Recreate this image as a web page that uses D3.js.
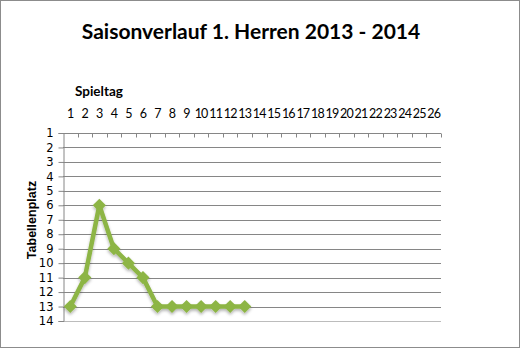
<!DOCTYPE html>
<html><head><meta charset="utf-8">
<script src="https://cdn.jsdelivr.net/npm/d3@7"></script>
<style>body{margin:0;background:#fff}svg{display:block}</style>
</head><body>
<script>
const title = "Saisonverlauf 1. Herren 2013 - 2014";
const xTitle = "Spieltag";
const yTitle = "Tabellenplatz";
const spieltage = d3.range(1, 27);
const platz = [13, 11, 6, 9, 10, 11, 13, 13, 13, 13, 13, 13, 13];
const yTicks = d3.range(1, 15);

const W = 520, H = 348;
const m = {l: 63, r: 79, t: 133, b: 27};
const svg = d3.select("body").append("svg").attr("width", W).attr("height", H);
svg.append("rect").attr("x", 0.5).attr("y", 0.5).attr("width", W - 1).attr("height", H - 1)
  .attr("fill", "#fff").attr("stroke", "#8c8c8c");

const x = d3.scaleBand().domain(spieltage).range([m.l, W - m.r]);
const y = d3.scaleLinear().domain([1, 14]).range([m.t, H - m.b]);

const defs = svg.append("defs");
const f = defs.append("filter").attr("id", "sh").attr("x", "-20%").attr("y", "-20%").attr("width", "140%").attr("height", "160%");
f.append("feDropShadow").attr("dx", 0).attr("dy", 2).attr("stdDeviation", 1.5).attr("flood-color", "#000").attr("flood-opacity", 0.3);

// gridlines
svg.append("g").selectAll("line").data(yTicks.slice(1)).join("line")
  .attr("x1", m.l).attr("x2", W - m.r)
  .attr("y1", d => Math.round(y(d)) + 0.5).attr("y2", d => Math.round(y(d)) + 0.5)
  .attr("stroke", d => d === 14 ? "#bcbcbc" : "#868686").attr("stroke-width", 1);

// y axis
const ya = svg.append("g").attr("transform", `translate(${m.l + 0.5},0)`)
  .call(d3.axisLeft(y).tickValues(yTicks).tickSize(5).tickPadding(5).tickFormat(d3.format("d")));
ya.select(".domain").attr("stroke", "#868686");
ya.selectAll(".tick line").attr("stroke", "#868686");
ya.selectAll("text").attr("font-family", "'DejaVu Sans', sans-serif").attr("font-size", 11.5).attr("fill", "#000");

// x axis on top (between-category ticks)
const xa = svg.append("g").attr("transform", `translate(0,${Math.round(y(1)) + 0.5})`);
xa.append("line").attr("x1", m.l).attr("x2", W - m.r).attr("stroke", "#868686");
xa.selectAll("line.t").data(spieltage).join("line").attr("class", "t")
  .attr("x1", d => Math.round(x(d) + x.bandwidth()) + 0.5).attr("x2", d => Math.round(x(d) + x.bandwidth()) + 0.5)
  .attr("y1", 0).attr("y2", 4).attr("stroke", "#868686");
xa.selectAll("text").data(spieltage).join("text")
  .attr("x", d => x(d) + x.bandwidth() / 2).attr("y", -16)
  .attr("text-anchor", "middle").attr("font-family", "Lato, 'Open Sans', sans-serif")
  .attr("font-size", 12.5).attr("letter-spacing", -0.8).text(d => d);

// titles
svg.append("text").attr("x", 251).attr("y", 39).attr("text-anchor", "middle")
  .attr("font-family", "Lato, 'Open Sans', sans-serif").attr("font-weight", "bold")
  .attr("font-size", 21).text(title);
svg.append("text").attr("x", 75).attr("y", 96)
  .attr("font-family", "Lato, 'Open Sans', sans-serif").attr("font-weight", "bold")
  .attr("font-size", 13.5).text(xTitle);
svg.append("text").attr("transform", "translate(36,220) rotate(-90)").attr("text-anchor", "middle")
  .attr("font-family", "'Liberation Sans', Arial, sans-serif").attr("font-weight", "bold")
  .attr("font-size", 12.5).text(yTitle);

// series
const pts = platz.map((v, i) => [x(spieltage[i]) + x.bandwidth() / 2, y(v)]);
const g = svg.append("g").attr("filter", "url(#sh)");
g.append("path").attr("d", d3.line()(pts)).attr("fill", "none")
  .attr("stroke", "#8db545").attr("stroke-width", 4.5).attr("stroke-linejoin", "round");
g.selectAll("path.m").data(pts).join("path").attr("class", "m")
  .attr("transform", d => `translate(${d[0]},${d[1]})`)
  .attr("d", d3.symbol(d3.symbolDiamond2, 110)())
  .attr("fill", "#8db545");
</script>
</body></html>
